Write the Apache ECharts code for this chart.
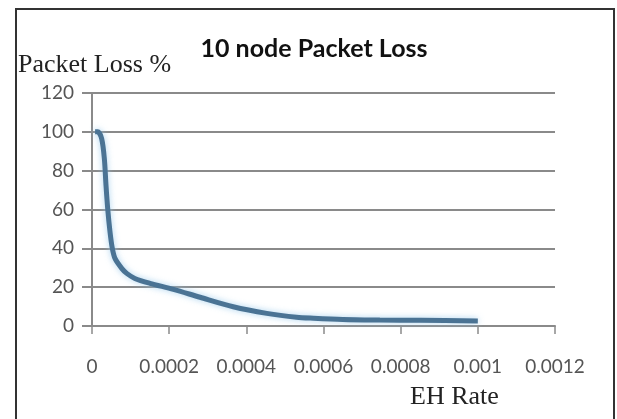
<!DOCTYPE html>
<html>
<head>
<meta charset="utf-8">
<script src="https://cdn.jsdelivr.net/npm/echarts@6/dist/echarts.min.js"></script>
<style>
html,body{margin:0;padding:0;background:#fff;}
#c{width:617px;height:419px;}
</style>
</head>
<body>
<div id="c"></div>
<script>
var titleText = '10 node Packet Loss';
var yAxisTitle = 'Packet Loss %';
var xAxisTitle = 'EH Rate';
var ehRate = [0.000008, 0.0000148, 0.000025, 0.000032, 0.0000363, 0.0000407, 0.0000467, 0.0000526, 0.0000596, 0.000077, 0.00009, 0.000111, 0.00015, 0.000211, 0.00028, 0.000366, 0.000453, 0.00053, 0.000574, 0.00065, 0.000746, 0.00085, 0.001];
var packetLoss = [100, 100, 96.5, 86.2, 72.4, 60.4, 48.4, 40, 34.8, 29.7, 27.1, 24.5, 22, 18.9, 14.8, 9.9, 6.5, 4.5, 4.0, 3.4, 3.1, 2.9, 2.6];
var xTickLabels = ['0', '0.0002', '0.0004', '0.0006', '0.0008', '0.001', '0.0012'];
var yTickLabels = ['0', '20', '40', '60', '80', '100', '120'];

var data = ehRate.map(function (x, i) { return [x, packetLoss[i]]; });
var chart = echarts.init(document.getElementById('c'), null, {renderer: 'canvas'});
chart.setOption({
  animation: false,
  backgroundColor: '#fff',
  grid: {left: 92, right: 62, top: 93, bottom: 93, containLabel: false},
  xAxis: {
    type: 'value', min: 0, max: 0.0012, interval: 0.0002,
    axisLine: {show: true, lineStyle: {color: '#8a8a8a', width: 2}},
    axisTick: {show: true, inside: false, length: 8, lineStyle: {color: '#8a8a8a', width: 1.5}},
    splitLine: {show: false},
    axisLabel: {
      margin: 31, color: '#555', fontFamily: 'Lato', fontSize: 19,
      formatter: function (v) { return xTickLabels[Math.round(v / 0.0002)]; }
    }
  },
  yAxis: {
    type: 'value', min: 0, max: 120, interval: 20,
    axisLine: {show: true, lineStyle: {color: '#8a8a8a', width: 2}},
    axisTick: {show: true, inside: false, length: 10, lineStyle: {color: '#8a8a8a', width: 2}},
    splitLine: {show: true, lineStyle: {color: '#8a8a8a', width: 2}},
    axisLabel: {
      margin: 18, color: '#555', fontFamily: 'Lato', fontSize: 19,
      formatter: function (v) { return yTickLabels[Math.round(v / 20)]; }
    }
  },
  series: [{
    type: 'line',
    data: data,
    smooth: 0.3,
    showSymbol: false,
    lineStyle: {color: '#4a7394', width: 5, shadowBlur: 6, shadowColor: 'rgba(150,200,235,0.8)'}
  }],
  graphic: [
    {type: 'rect', shape: {x: 16, y: 9, width: 598, height: 430}, style: {fill: 'none', stroke: '#333', lineWidth: 2}, silent: true},
    {type: 'text', x: 314, y: 49, style: {text: titleText, fontFamily: 'Lato', fontWeight: 'bold', fontSize: 25, fill: '#111', textAlign: 'center', textVerticalAlign: 'middle'}},
    {type: 'text', x: 18, y: 52, style: {text: yAxisTitle, fontFamily: 'Liberation Serif', fontSize: 26, fill: '#222'}},
    {type: 'text', x: 410, y: 384, style: {text: xAxisTitle, fontFamily: 'Liberation Serif', fontSize: 26, fill: '#222'}}
  ]
});
</script>
</body>
</html>
